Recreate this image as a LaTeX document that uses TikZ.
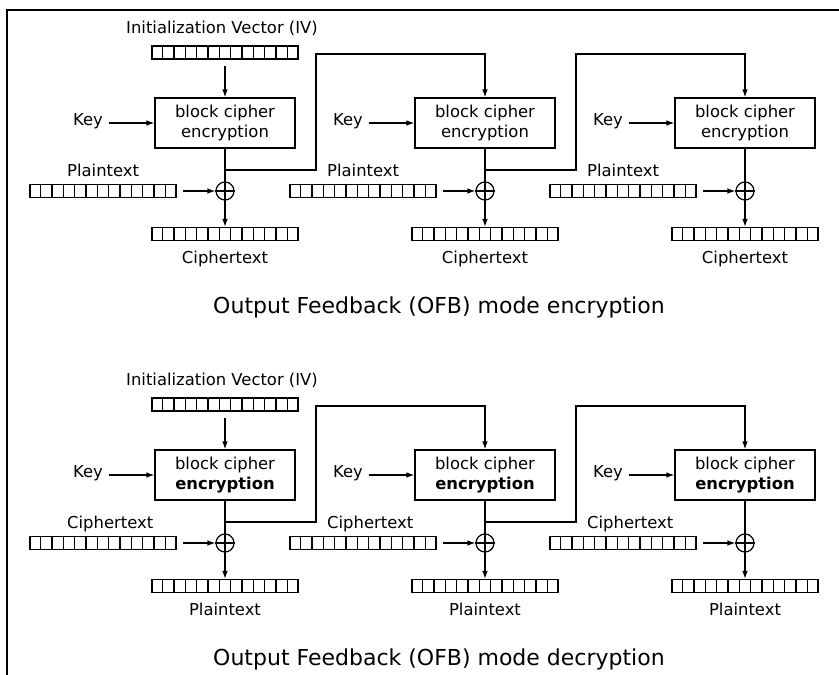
\documentclass[tikz,border=0pt]{standalone}
\usepackage{fontspec}
\setmainfont{DejaVu Sans}
\usetikzlibrary{arrows.meta,calc}

\tikzset{
  ln/.style={line width=1.2pt},
  arr/.style={ln,-{Latex[length=8pt,width=5.5pt]}},
  lbl/.style={font=\fontsize{16.4}{20}\selectfont, inner sep=0pt},
  cipherbox/.style={draw, ln, minimum width=140pt, minimum height=50pt, align=center, font=\fontsize{16.4}{20}\selectfont, inner sep=0pt},
  reg/.style={draw, ln, minimum width=146pt, minimum height=13pt, inner sep=0pt},
  xorc/.style={draw, ln, circle, minimum size=18pt, inner sep=0pt},
  ttl/.style={font=\fontsize{22}{26}\selectfont, inner sep=0pt}
}

\newcommand\regcells[1]{%
  \foreach \i in {1,...,12}
    \draw[ln] ($(#1.south west)!\i/13!(#1.south east)$) -- ($(#1.north west)!\i/13!(#1.north east)$);
}

\newcommand\ofbrow[5]{%
  \node[lbl, anchor=base] (#1ivl) at (222,33) {Initialization Vector (IV)};
  \node[reg] (#1iv) at (225,52.5) {};
  \regcells{#1iv}
  \foreach \k/\cx in {1/225,2/485,3/745} {
    \node[cipherbox] (#1b\k) at (\cx,123) {block cipher\\#4};
    \node[lbl, anchor=mid] (#1k\k) at (\cx-137,123) {Key};
    \node[xorc] (#1x\k) at (\cx,191) {};
    \draw[ln] (#1x\k.north) -- (#1x\k.south) (#1x\k.west) -- (#1x\k.east);
    \node[reg] (#1p\k) at (\cx-122,191) {};
    \regcells{#1p\k}
    \node[lbl, anchor=base west] (#1pl\k) at (\cx-158,176.5) {#2};
    \node[reg] (#1o\k) at (\cx,234) {};
    \regcells{#1o\k}
    \node[lbl, anchor=base] (#1ol\k) at (\cx,263) {#3};
    \draw[arr, shorten <=6pt] (#1k\k.mid east) -- (#1b\k.west);
    \draw[arr, shorten <=6pt] (#1p\k.east) -- (#1x\k.west);
    \draw[ln] (#1b\k.south) -- (#1x\k.north);
    \draw[arr] (#1x\k.south) -- (#1o\k.north);
    \coordinate (#1br\k) at (\cx,170);
    \coordinate (#1fb\k) at (\cx+91,54);
  }
  \draw[arr, shorten <=6pt] (#1iv.south) -- (#1b1.north);
  \draw[arr] (#1br1) -| (#1fb1) -| (#1b2.north);
  \draw[arr] (#1br2) -| (#1fb2) -| (#1b3.north);
  \node[ttl, anchor=base] (#1ttl) at (439,313) {#5};
}

\begin{document}
\begin{tikzpicture}[x=1pt,y=-1pt]
  \useasboundingbox (0,0) rectangle (839,675);
  \fill[white] (0,0) rectangle (839,675);
  \draw[ln] (7,675) -- (7,10) -- (839,10);
  \begin{scope}
    \ofbrow{e}{Plaintext}{Ciphertext}{encryption}{Output Feedback (OFB) mode encryption}
  \end{scope}
  \begin{scope}[shift={(0,352)}]
    \ofbrow{d}{Ciphertext}{Plaintext}{\textbf{encryption}}{Output Feedback (OFB) mode decryption}
  \end{scope}
\end{tikzpicture}
\end{document}
